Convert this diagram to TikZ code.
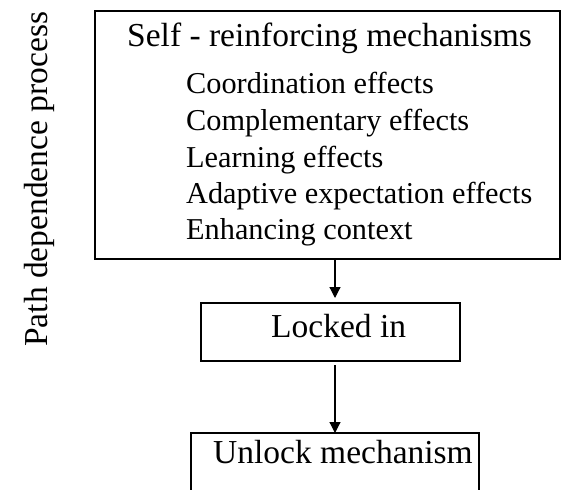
\documentclass[tikz,border=0pt]{standalone}
\usepackage{fontspec}
\setmainfont{Liberation Serif}
\usetikzlibrary{arrows.meta}
\begin{document}
\begin{tikzpicture}[x=1pt,y=-1pt,
  box/.style={draw,line width=1.2pt,inner sep=0pt,outer sep=0pt,anchor=north west},
  big/.style={font=\fontsize{33.5}{36}\selectfont,inner sep=0pt,anchor=base west},
  item/.style={font=\fontsize{30.3}{36}\selectfont,inner sep=0pt,anchor=base west},
  arr/.style={line width=1.2pt,-{Triangle[length=11pt,width=11pt]}}]
\clip (0,0) rectangle (561,489);
\node[box,minimum width=465pt,minimum height=248pt] (top) at (95,11) {};
\node[box,minimum width=259pt,minimum height=58pt] (locked) at (201,303) {};
\node[box,minimum width=288pt,minimum height=70pt] (unlock) at (191,433) {};
\coordinate (ax) at (335,0);
\draw[arr,shorten >=5pt] (top.south -| ax) -- (locked.north -| ax);
\draw[arr,shorten <=4pt] (locked.south -| ax) -- (unlock.north -| ax);
\node[big] (title) at (127,47) {Self - reinforcing mechanisms};
\node[item] (i1) at (186,94) {Coordination effects};
\node[item] (i2) at (186,130.5) {Complementary effects};
\node[item] (i3) at (186,167) {Learning effects};
\node[item] (i4) at (186,203) {Adaptive expectation effects};
\node[item] (i5) at (186,239) {Enhancing context};
\node[big] (lockedtext) at (271,337) {Locked in};
\node[big] (unlocktext) at (213,463) {Unlock mechanism};
\node[big,rotate=90] (side) at (47,347) {Path dependence process};
\end{tikzpicture}
\end{document}
